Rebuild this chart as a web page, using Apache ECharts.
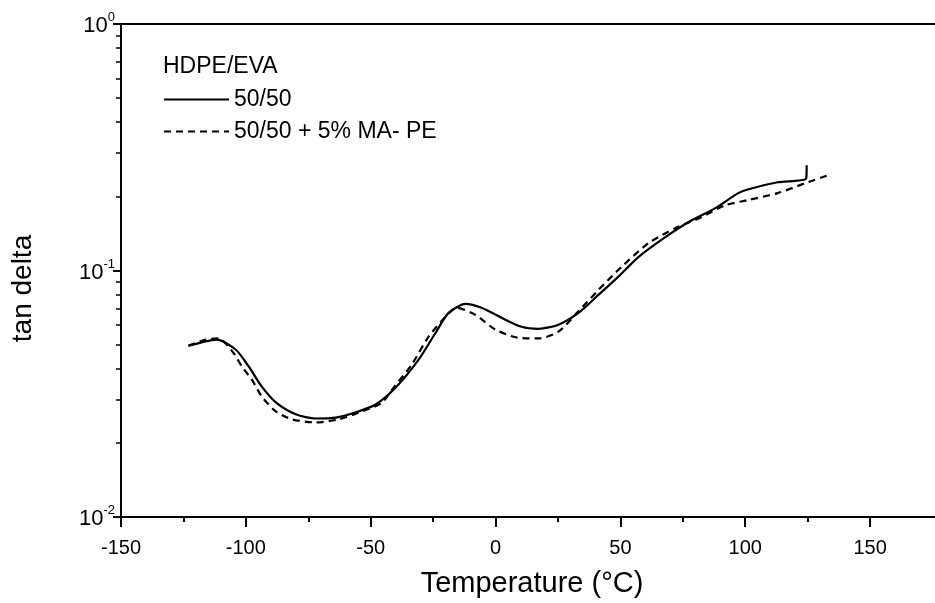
<!DOCTYPE html>
<html>
<head>
<meta charset="utf-8">
<script src="https://cdn.jsdelivr.net/npm/echarts@6/dist/echarts.min.js"></script>
<style>
html,body{margin:0;padding:0;background:#fff;}
#chart{width:935px;height:603px;}
</style>
</head>
<body>
<div id="chart"></div>
<script>
// ---- data ----
const solidT = [-123, -118, -111.6, -104, -98.8, -93.6, -88, -80, -72, -64, -56, -48, -40, -30.8, -24, -18.8, -12, -5.6, 2.4, 10.4, 17.2, 25.2, 33.2, 41.2, 49, 57.2, 68, 77.2, 88, 97.2, 101, 113, 124.4, 124.6];
const solidV = [0.0495, 0.051, 0.0524, 0.0477, 0.0407, 0.0338, 0.0292, 0.0261, 0.0251, 0.0253, 0.0266, 0.0286, 0.0335, 0.0435, 0.0559, 0.0673, 0.0732, 0.0706, 0.0643, 0.0591, 0.058, 0.0603, 0.0673, 0.0796, 0.094, 0.1134, 0.1366, 0.157, 0.179, 0.206, 0.213, 0.228, 0.236, 0.267];
const dashT = [-123, -116, -111, -105, -101.6, -97.6, -93.6, -88, -81.6, -72, -62.8, -53.6, -45.6, -41.6, -33.6, -26.8, -20, -15.6, -8, 0, 9.2, 17.2, 25.2, 33, 41.2, 50.4, 61.2, 72, 82.4, 92, 101, 113, 124, 133];
const dashV = [0.0495, 0.0524, 0.053, 0.0464, 0.0408, 0.0361, 0.0308, 0.0268, 0.0249, 0.0242, 0.0249, 0.0268, 0.029, 0.0327, 0.0415, 0.0539, 0.0649, 0.0706, 0.066, 0.0575, 0.0533, 0.053, 0.0565, 0.068, 0.0834, 0.1033, 0.129, 0.1485, 0.1645, 0.184, 0.193, 0.206, 0.226, 0.243];
const seriesNames = ['50/50', '50/50 + 5% MA- PE'];
const legendTitle = 'HDPE/EVA';
const xMajorTicks = [-150, -100, -50, 0, 50, 100, 150];
const xMinorTicks = [-125, -75, -25, 25, 75, 125];
const yMinorFactors = [2, 3, 4, 5, 6, 7, 8, 9];
const yDecades = [0.01, 0.1];
const xTitle = 'Temperature (°C)';
const yTitle = 'tan delta';

const FONT = 'Liberation Sans, Arial, Helvetica, sans-serif';
const yMinorLog = [];
yDecades.forEach(d => yMinorFactors.forEach(f => yMinorLog.push(Math.log10(d * f))));

const chart = echarts.init(document.getElementById('chart'), null, {renderer: 'canvas'});
chart.setOption({
  backgroundColor: '#fff',
  animation: false,
  textStyle: {fontFamily: FONT, color: '#000'},
  grid: {left: 121, right: 0, top: 24, bottom: 85, containLabel: false},
  title: {
    text: legendTitle, left: 163, top: 55,
    textStyle: {fontFamily: FONT, fontSize: 23, fontWeight: 'normal', color: '#000'}, padding: 0
  },
  legend: {
    data: seriesNames, orient: 'vertical', left: 163, top: 88, padding: 0,
    itemWidth: 65, itemHeight: 14, itemGap: 9,
    itemStyle: {color: 'rgba(0,0,0,0)', borderColor: 'rgba(0,0,0,0)', borderWidth: 0},
    textStyle: {fontFamily: FONT, fontSize: 23, color: '#000'}
  },
  xAxis: [
    {
      type: 'value', position: 'bottom', min: -150, max: 176,
      name: xTitle, nameLocation: 'middle', nameGap: 52,
      nameTextStyle: {fontFamily: FONT, fontSize: 29, color: '#000', padding: [0, 0, 0, 8]},
      axisLine: {show: true, onZero: false, lineStyle: {color: '#000', width: 2}},
      axisTick: {show: true, customValues: xMajorTicks, length: 10, inside: false, lineStyle: {color: '#000', width: 2}},
      axisLabel: {show: true, customValues: xMajorTicks, margin: 21, fontFamily: FONT, fontSize: 20, color: '#000'},
      splitLine: {show: false}
    },
    {
      type: 'value', position: 'bottom', min: -150, max: 176,
      axisLine: {show: false, onZero: false},
      axisTick: {show: true, customValues: xMinorTicks, length: 5, lineStyle: {color: '#000', width: 2}},
      axisLabel: {show: false},
      splitLine: {show: false}
    },
    {
      type: 'value', position: 'top', min: -150, max: 176,
      axisLine: {show: true, onZero: false, lineStyle: {color: '#000', width: 2}},
      axisTick: {show: false}, axisLabel: {show: false}, splitLine: {show: false}
    }
  ],
  yAxis: [
    {
      type: 'log', logBase: 10, min: 0.01, max: 1, position: 'left',
      name: yTitle, nameLocation: 'middle', nameGap: 84, nameRotate: 90,
      nameTextStyle: {fontFamily: FONT, fontSize: 28, color: '#000', padding: [0, 36, 0, 0]},
      axisLine: {show: true, onZero: false, lineStyle: {color: '#000', width: 2}},
      axisTick: {show: true, length: 8, inside: false, lineStyle: {color: '#000', width: 2}},
      axisLabel: {
        show: true, margin: 6, fontFamily: FONT, fontSize: 22,
        formatter: function (v) {
          const e = Math.round(Math.log10(v));
          return '{b|10}{s|' + e + '}';
        },
        rich: {
          b: {fontFamily: FONT, fontSize: 22, color: '#000', lineHeight: 26, verticalAlign: 'bottom'},
          s: {fontFamily: FONT, fontSize: 13, color: '#000', lineHeight: 26, verticalAlign: 'top', padding: [0, 0, 10, 0]}
        }
      },
      splitLine: {show: false}, minorTick: {show: false}
    },
    {
      type: 'value', min: -2, max: 0, position: 'left',
      axisLine: {show: false, onZero: false},
      axisTick: {show: true, customValues: yMinorLog, length: 5, lineStyle: {color: '#000', width: 1.5}},
      axisLabel: {show: false}, splitLine: {show: false}
    }
  ],
  series: [
    {
      name: seriesNames[0], type: 'line', xAxisIndex: 0, yAxisIndex: 0,
      data: solidT.map((t, i) => [t, solidV[i]]),
      showSymbol: false, symbol: 'none', smooth: 0.25,
      lineStyle: {color: '#000', width: 2.2, type: 'solid'},
      itemStyle: {color: '#000'}
    },
    {
      name: seriesNames[1], type: 'line', xAxisIndex: 0, yAxisIndex: 0,
      data: dashT.map((t, i) => [t, dashV[i]]),
      showSymbol: false, symbol: 'none', smooth: 0.25,
      lineStyle: {color: '#000', width: 2.2, type: [7, 5]},
      itemStyle: {color: '#000'}
    }
  ]
});
</script>
</body>
</html>
